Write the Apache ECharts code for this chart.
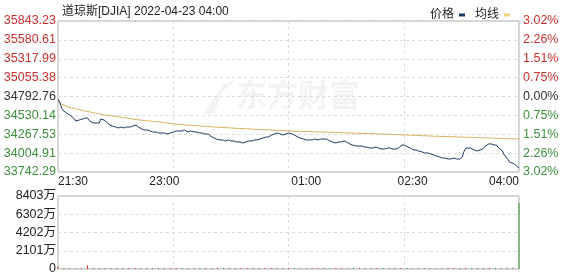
<!DOCTYPE html>
<html><head><meta charset="utf-8">
<script src="https://cdn.jsdelivr.net/npm/echarts@6/dist/echarts.min.js"></script>
<style>html,body{margin:0;padding:0;background:#fff}#c{width:578px;height:276px}</style>
</head><body><div id="c"></div>
<script>
// ---- data (minutes after 21:30) ----
const times = [0,1,2,3,4,5,7,8,10,12,14,15,16,18,19,21,23,25,26,28,30,31,33,34,35,36,37,39,41,42,44,46,47,49,51,52,54,56,58,59,61,63,64,66,68,69,71,73,74,76,78,80,81,83,85,86,88,90,91,93,95,96,98,100,102,103,105,107,108,110,112,113,115,117,118,120,122,124,125,127,129,130,132,134,135,137,139,140,142,144,146,147,149,151,152,154,156,157,159,161,162,164,166,168,169,171,173,174,176,178,179,181,183,184,186,188,190,191,193,195,196,198,200,201,203,205,206,208,210,212,213,215,217,218,220,222,223,225,227,228,230,232,233,235,237,239,240,242,244,245,247,249,250,252,254,255,257,259,261,262,264,266,267,269,271,272,274,276,277,279,281,283,284,286,288,289,291,293,294,296,298,299,301,303,305,306,308,310,311,313,315,316,318,320,321,323,325,327,328,330,332,333,335,337,338,340,341,342,343,344,345,347,349,350,352,354,355,357,359,360,362,364,365,367,369,371,372,374,376,377,379,381,382,384,386,387,389,390];
const prices = [34758,34730,34688,34633,34605,34591,34563,34563,34535,34508,34480,34452,34438,34466,34480,34480,34494,34494,34466,34438,34424,34438,34424,34410,34424,34480,34494,34466,34438,34424,34396,34382,34368,34368,34355,34368,34368,34355,34368,34368,34368,34382,34382,34396,34368,34355,34341,34327,34313,34327,34313,34299,34313,34299,34285,34299,34285,34285,34285,34271,34285,34271,34299,34313,34313,34327,34313,34327,34313,34299,34313,34313,34299,34299,34299,34285,34285,34271,34285,34271,34243,34229,34215,34201,34201,34188,34188,34174,34174,34188,34174,34174,34174,34160,34160,34160,34146,34146,34160,34174,34174,34174,34188,34188,34201,34201,34215,34215,34229,34229,34243,34257,34271,34285,34285,34271,34257,34257,34271,34285,34285,34271,34257,34243,34229,34215,34201,34201,34188,34188,34174,34188,34201,34188,34188,34201,34201,34201,34201,34188,34174,34160,34146,34146,34160,34160,34174,34174,34160,34146,34132,34118,34104,34104,34104,34104,34104,34090,34090,34090,34076,34076,34076,34090,34076,34076,34062,34062,34076,34076,34076,34062,34062,34062,34076,34090,34118,34118,34104,34090,34076,34062,34048,34048,34035,34021,34021,34007,34007,34007,33993,33979,33979,33965,33951,33951,33937,33937,33923,33923,33923,33923,33937,33923,33909,33923,33909,33951,34007,34048,34076,34076,34076,34062,34048,34035,34035,34048,34062,34076,34104,34132,34146,34132,34118,34118,34090,34062,34035,33993,33951,33909,33881,33868,33854,33840,33812,33798];
const avgTimes = [0,3,7,12,19,27,40,52,69,86,99,120,146,171,196,222,247,272,294,315,340,365,390];
const avgPrices = [34716,34688,34660,34633,34605,34577,34535,34508,34466,34438,34410,34382,34355,34334,34313,34299,34285,34271,34257,34243,34229,34215,34201];
const volTimes = [0,5,10,15,20,25,30,35,40,45,50,55,60,65,70,75,80,85,90,95,100,105,110,115,120,125,130,135,140,145,150,155,160,165,170,175,180,185,190,195,200,205,210,215,220,225,230,235,240,245,250,255,260,265,270,275,280,285,290,295,300,305,310,315,320,325,330,335,340,345,350,355,360,365,370,375,380,385,390];
const volumes = [300,120,110,100,120,420,110,100,120,110,90,100,110,100,120,100,90,110,100,120,100,110,90,100,110,100,120,100,90,110,100,100,120,100,110,90,100,120,110,100,90,110,100,120,100,110,100,90,120,100,110,100,90,110,120,100,100,110,90,100,120,110,100,90,110,100,120,100,110,130,100,110,120,100,110,120,130,140,7600];
const leftTicks = ['33742.29','34004.91','34267.53','34530.14','34792.76','35055.38','35317.99','35580.61','35843.23'];
const rightTicks = ['3.02%','2.26%','1.51%','0.75%','0.00%','0.75%','1.51%','2.26%','3.02%'];
const volTicks = ['0','2101万','4202万','6302万','8403万'];
const timeLabels = ['21:30','23:00','01:00','02:30','04:00'];
const timeLabelMinutes = [0,90,210,300,390];
const seriesNames = ['价格','均线'];
const titleText = '道琼斯[DJIA] 2022-04-23 04:00';

const yMin = parseFloat(leftTicks[0]), yMax = parseFloat(leftTicks[leftTicks.length-1]);
const yInt = (yMax - yMin) / (leftTicks.length - 1);
const vMax = 8403, vInt = vMax / (volTicks.length - 1);
const RED = '#d0302c', GREEN = '#3d8f3d', BLACK = '#333';
const idxOf = v => Math.round((v - yMin) / yInt);
const tickColor = v => { const i = idxOf(v); return i < 4 ? GREEN : (i > 4 ? RED : BLACK); };

const priceData = times.map((t,i)=>[t, prices[i]]);
const avgData = avgTimes.map((t,i)=>[t, avgPrices[i]]);
function priceAt(t){ let k=0; for(let i=0;i<times.length;i++){ if(times[i]<=t) k=i; } return k; }
const volData = volTimes.map((t,i)=>{
  const k = priceAt(t); const up = k>0 ? prices[k] >= prices[k-1] : true;
  return {value:[t, volumes[i]], itemStyle:{color: up ? RED : GREEN}};
});

const FONT = '"Liberation Sans", "Noto Sans CJK SC", sans-serif';
const dashed = {show:true, lineStyle:{color:'#dcdcdc', type:[3,3], width:1}};
const chart = echarts.init(document.getElementById('c'), null, {renderer:'canvas'});
chart.setOption({
  animation:false,
  textStyle:{fontFamily:FONT},
  title:{text:titleText, left:57, top:1, textStyle:{fontSize:12, fontWeight:'normal', color:'#222', fontFamily:FONT}},
  legend:{data:[{name:seriesNames[0], icon:'rect'},{name:seriesNames[1], icon:'rect'}], right:63, top:4, align:'right', itemWidth:6, itemHeight:3, itemGap:10,
    textStyle:{fontSize:12, color:'#222', padding:[0,0,0,0]}},
  graphic:[
    {type:'polygon', shape:{points:[[203,114],[224,84],[236,80],[222,92],[214,114]]}, style:{fill:'#f3f3f3'}, silent:true, z:0},
    {type:'text', left:236, top:79, style:{text:'东方财富', font:'bold 31px "Noto Sans CJK SC"', fill:'#f3f3f3'}, silent:true, z:0}
  ],
  grid:[
    {left:58, top:21, width:461, height:151, show:true, borderColor:'#aaa', borderWidth:1, backgroundColor:'transparent'},
    {left:58, top:196, width:461, height:73, show:true, borderColor:'#aaa', borderWidth:1, backgroundColor:'transparent'}
  ],
  xAxis:[
    {gridIndex:0, type:'value', min:0, max:390, interval:97.5, axisLine:{show:false}, axisTick:{show:false}, axisLabel:{show:false}, splitLine:dashed},
    {gridIndex:0, type:'value', min:0, max:390, position:'bottom', axisLine:{show:false}, axisTick:{show:false}, splitLine:{show:false},
      axisLabel:{show:true, customValues:timeLabelMinutes, margin:4, fontSize:12, color:'#222', alignMinLabel:'left', alignMaxLabel:'right',
        formatter:v=>{const i=timeLabelMinutes.indexOf(Math.round(v)); return i>=0?timeLabels[i]:'';}}},
    {gridIndex:1, type:'value', min:0, max:390, interval:97.5, axisLine:{show:false}, axisTick:{show:false}, axisLabel:{show:false}, splitLine:dashed}
  ],
  yAxis:[
    {gridIndex:0, type:'value', min:yMin, max:yMax, interval:yInt, position:'left', axisLine:{show:false}, axisTick:{show:false}, splitLine:dashed,
      axisLabel:{margin:2, fontSize:12.5, color:v=>tickColor(v), formatter:v=>leftTicks[idxOf(v)]||''}},
    {gridIndex:0, type:'value', min:yMin, max:yMax, interval:yInt, position:'right', axisLine:{show:false}, axisTick:{show:false}, splitLine:{show:false},
      axisLabel:{margin:4, fontSize:12.5, color:v=>tickColor(v), formatter:v=>rightTicks[idxOf(v)]||''}},
    {gridIndex:1, type:'value', min:0, max:vMax, interval:vInt, position:'left', axisLine:{show:false}, axisTick:{show:false}, splitLine:dashed,
      axisLabel:{margin:2, fontSize:12.5, color:'#222', formatter:v=>volTicks[Math.round(v/vInt)]||''}}
  ],
  series:[
    {name:seriesNames[0], type:'line', xAxisIndex:0, yAxisIndex:0, data:priceData, showSymbol:false, symbol:'none',
      lineStyle:{color:'#1d3a66', width:1}, itemStyle:{color:'#1d3a66'}, z:3},
    {name:seriesNames[1], type:'line', xAxisIndex:0, yAxisIndex:0, data:avgData, showSymbol:false, symbol:'none', smooth:0.3,
      lineStyle:{color:'#d8b060', width:1}, itemStyle:{color:'#f2cf7a'}, z:2},
    {name:'成交量', type:'bar', xAxisIndex:2, yAxisIndex:2, data:volData, barWidth:1, barMinHeight:1, z:2}
  ]
});
</script></body></html>
